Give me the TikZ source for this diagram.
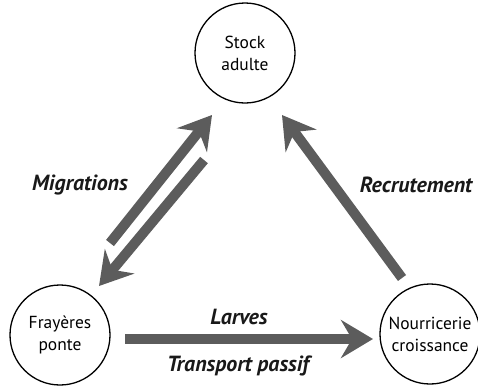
\documentclass[tikz,border=0pt]{standalone}
\usepackage{fontspec}
\setmainfont{PT Sans}
\usetikzlibrary{arrows.meta}
\definecolor{flowgray}{HTML}{5C5C5C}
\tikzset{
  stage/.style={circle, draw=black, line width=1.3bp, minimum size=100bp, inner sep=0pt,
    align=center, font=\fontsize{17.5}{22}\selectfont},
  flow/.style={draw=flowgray, line width=10bp,
    -{Stealth[length=32bp, width=38bp, inset=11bp, fill=flowgray]}},
  flowlabel/.style={font=\fontsize{22}{24}\selectfont\bfseries\itshape, text=black!90}
}
\begin{document}
\begin{tikzpicture}[x=1bp, y=-1bp]
  \useasboundingbox (0,0) rectangle (478,388);

  % life-cycle stages
  \node[stage] (stock) at (245,53) {Stock\\adulte};
  \node[stage] (fray)  at (60,335) {Frayères\\ponte};
  \node[stage] (nour)  at (430,334) {Nourricerie\\croissance};

  % end points of the flows
  \coordinate (larA) at (125,339);
  \coordinate (larB) at (373,339);
  \coordinate (recA) at (402,278);
  \coordinate (recB) at (282,115);
  \coordinate (migUpA) at (110,243);
  \coordinate (migUpB) at (212,115);
  \coordinate (migDnA) at (204,160);
  \coordinate (migDnB) at (99,286);

  % flows
  \draw[flow] (larA) -- (larB);
  \draw[flow] (recA) -- (recB);
  \draw[flow] (migUpA) -- (migUpB);
  \draw[flow] (migDnA) -- (migDnB);

  % flow labels
  \node[flowlabel] (lLar) at (239,317) {Larves};
  \node[flowlabel] (lTra) at (238,366) {Transport passif};
  \node[flowlabel] (lRec) at (416,185) {Recrutement};
  \node[flowlabel] (lMig) at (80,185) {Migrations};
\end{tikzpicture}
\end{document}
